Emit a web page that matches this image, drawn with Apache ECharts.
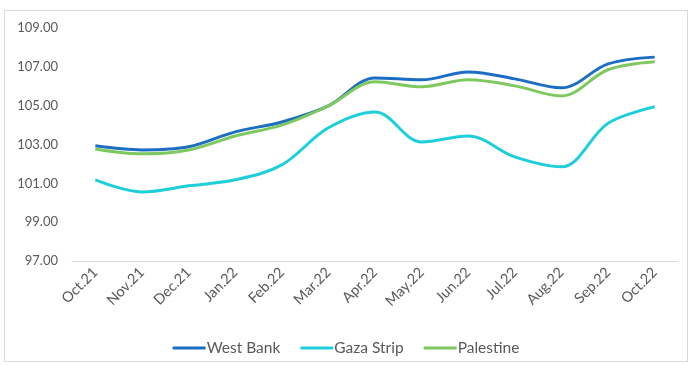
<!DOCTYPE html>
<html>
<head>
<meta charset="utf-8">
<script src="https://cdn.jsdelivr.net/npm/echarts@6/dist/echarts.min.js"></script>
<style>
  html, body { margin: 0; padding: 0; background: #fff; }
  #frame { position: absolute; left: 4px; top: 10px; width: 684px; height: 352px; border: 1px solid #d9d9d9; box-sizing: border-box; }
  #chart { position: absolute; left: 0; top: 0; width: 692px; height: 365px; }
</style>
</head>
<body>
<div id="frame"></div>
<div id="chart"></div>
<script>
// Monthly price index, Oct 2021 - Oct 2022
const months = ['Oct.21', 'Nov.21', 'Dec.21', 'Jan.22', 'Feb.22', 'Mar.22', 'Apr.22',
                'May.22', 'Jun.22', 'Jul.22', 'Aug.22', 'Sep.22', 'Oct.22'];
const westBank  = [102.93, 102.72, 102.88, 103.65, 104.16, 104.99, 106.43, 106.33, 106.74, 106.38, 105.92, 107.15, 107.50];
const gazaStrip = [101.18, 100.56, 100.87, 101.18, 101.95, 103.86, 104.68, 103.13, 103.44, 102.36, 101.85, 104.10, 104.94];
const palestine = [102.77, 102.52, 102.72, 103.44, 104.00, 104.99, 106.23, 105.97, 106.33, 106.02, 105.50, 106.85, 107.26];

const font = 'Lato, "Noto Sans", sans-serif';
const textColor = '#595959';

function lineSeries(name, data, color) {
  return {
    name: name,
    type: 'line',
    data: data,
    smooth: 0.35,
    symbol: 'none',
    lineStyle: { color: color, width: 3 },
    itemStyle: { color: color }
  };
}

const chart = echarts.init(document.getElementById('chart'));
chart.setOption({
  animation: false,
  grid: { left: 72, right: 14, top: 28, bottom: 104 },
  xAxis: {
    type: 'category',
    data: months,
    boundaryGap: true,
    axisLine: { lineStyle: { color: '#d9d9d9', width: 1 } },
    axisTick: { show: false },
    axisLabel: { rotate: 45, color: textColor, fontFamily: font, fontSize: 14.5, margin: 9 }
  },
  yAxis: {
    type: 'value',
    min: 97,
    max: 109,
    interval: 2,
    splitLine: { show: false },
    axisLine: { show: false },
    axisTick: { show: false },
    axisLabel: {
      color: textColor, fontFamily: font, fontSize: 13, margin: 14,
      formatter: v => v.toFixed(2)
    }
  },
  legend: {
    top: 335,
    left: 'center',
    itemWidth: 33,
    itemHeight: 3,
    itemGap: 20,
    icon: 'roundRect',
    textStyle: { color: textColor, fontFamily: font, fontSize: 15.5, padding: [0, 0, 0, -4] },
    data: ['West Bank', 'Gaza Strip', 'Palestine']
  },
  series: [
    lineSeries('West Bank', westBank, '#1b6ec2'),
    lineSeries('Gaza Strip', gazaStrip, '#1dcfdb'),
    lineSeries('Palestine', palestine, '#7ec95f')
  ]
});
</script>
</body>
</html>
